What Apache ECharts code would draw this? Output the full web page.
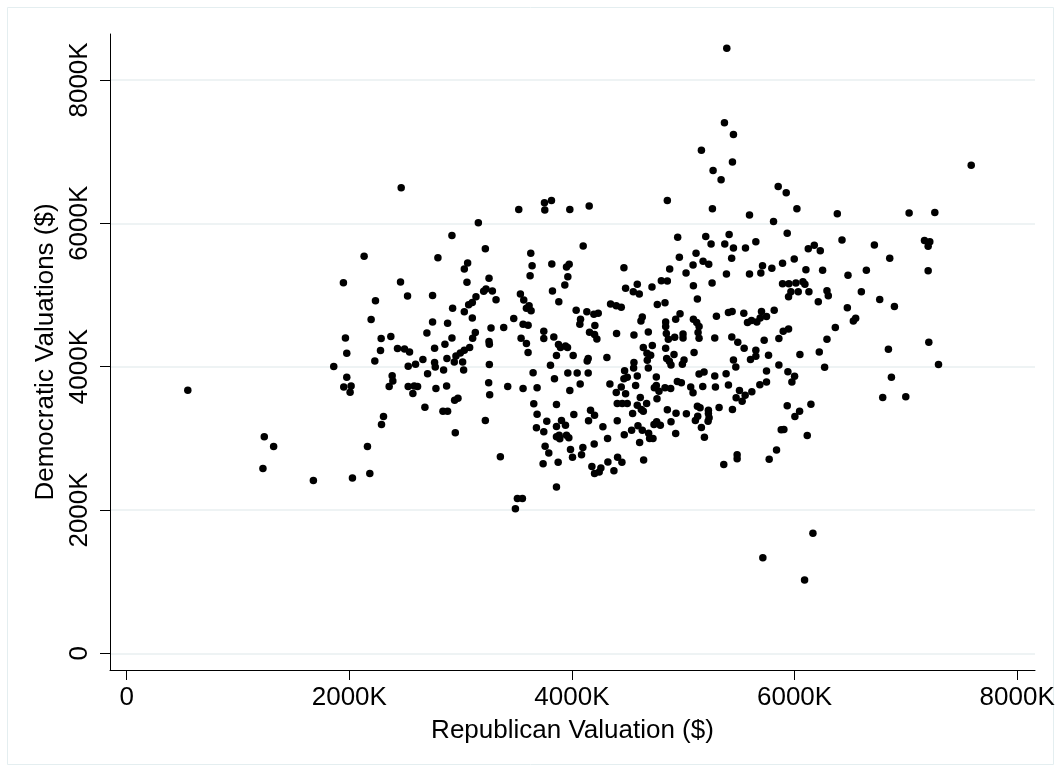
<!DOCTYPE html>
<html>
<head>
<meta charset="utf-8">
<script src="https://cdn.jsdelivr.net/npm/echarts@6/dist/echarts.min.js"></script>
<style>
  html, body { margin: 0; padding: 0; background: #fff; }
  #chart { width: 1061px; height: 772px; }
</style>
</head>
<body>
<div id="chart"></div>
<script>
// Valuations per observation, in thousands of dollars.
// repValuation[i] pairs with demValuation[i].
const repValuation = [
  2466,3159,2922,3522,3753,3756,3816,3981,4155,4857,
  4950,5202,5412,5370,5451,5163,5442,5268,5340,5262,
  5391,5853,5925,6021,5595,5811,6384,7029,7260,7587,
  5934,
  549,2133,2796,1947,2460,2523,2748,2235,2196,2748,
  2883,2697,1965,2286,2373,1977,2280,2433,2496,2541,
  2766,2859,2661,2877,1860,2229,2529,2595,2766,2772,
  2847,2703,1977,2385,2391,2358,1950,2016,2007,2529,
  2583,2613,2571,2778,2874,2679,2307,2841,2883,
  1236,1320,1224,1677,2028,2184,2163,2289,
  2952,3357,3222,3510,3555,3492,3681,3747,3774,3861,
  3942,3906,3861,3885,3891,3951,3972,3759,3792,3741,
  3876,3861,3987,4005,4098,4086,4149,4200,4278,4320,
  4179,4203,4245,4260,4323,4377,4410,4449,4407,4470,
  4536,4593,4632,4608,4644,4689,4698,4728,4737,4761,
  4794,4890,4932,5109,5163,5190,5223,5364,
  5880,5904,6114,5838,5772,5484,5484,6165,5715,6090,
  5451,5559,5652,5435,6123,6177,6231,6426,6717,7167,
  7215,7200,6855,7200,5892,5997,5712,5796,5595,5697,
  6102,6252,6480,6645,5892,5949,6012,6075,6093,5967,
  6033,5946,6129,6291,6303,6213,6600,6765,6897,6474,
  6549,6528,6366,6291,6222,6048,6270,6843,7206,7293,
  6870,6792,6999,5439,5544,5703,5817,5577,5613,5661,
  5691,5748,5946,5898,5859,5727,5436,5490,5547,5652,
  5652,5604,5766,5451,5472,5859,5748,5940,6000,5976,
  5748,5688,5616,5505,5556,5475,5529,5442,5934,6147,
  6045,6003,
  3222,3630,4101,5250,5373,3033,3063,3057,3255,3642,
  3624,3819,3951,3975,3963,3936,3825,3882,4467,4482,
  4587,4551,4605,4719,4803,4857,4878,4965,5025,5088,
  5115,5178,5229,5388,5259,5091,5127,4836,4767,4971,
  4932,5091,5121,5142,5133,5142,5298,5406,5283,4842,
  4842,4848,4866,4923,4998,4998,4632,4620,4686,4557,
  4401,4347,4398,4443,4641,4722,4674,4707,4677,4686,
  4842,4917,4851,4875,4890,5007,4992,5097,4314,4557,
  4554,4473,4497,4467,4587,4572,4341,4443,4398,4482,
  4614,4407,4452,4497,4587,4623,4671,4545,4641,4758,
  4740,4758,4782,4764,4836,4887,4947,4983,5067,5088,
  5175,5142,5187,5283,5289,5385,5406,5127,5151,5226,
  5226,5322,5028,4935,4857,5130,5232,
  2928,3033,3072,3105,3138,3207,3228,3285,3318,3105,
  2922,3132,3108,3273,3387,3255,3258,3081,3033,2997,
  2958,2943,3018,3027,3258,3252,3261,3423,3561,3687,
  3657,3687,3861,3651,3807,3843,3963,4047,4146,4074,
  3981,4137,4146,4011,3861,3897,3942,3960,3879,3837,
  3747,3747,3606,3591,3543,3477,3561,3606,3537,3567,
  3591,3615,3633,4038,4134,4197,4236,4077,4071,4206,
  4158,4203,4224,2946,2976,4017,4167,4203
];

const demValuation = [
  6496,6006,5828,6192,6286,6184,6318,6192,6240,6318,
  5806,5814,5842,7402,7238,7018,6856,6738,6608,6202,
  8442,6514,6426,6202,6114,6024,6132,6142,6150,6808,
  5862,
  3672,5540,5520,5170,5180,4984,4994,4918,4658,4624,
  4606,4470,4400,4392,4420,4186,4224,4252,4246,4204,
  4256,4312,4098,4112,4000,4078,4004,4032,4056,3994,
  3952,3902,3850,3874,3798,3724,3714,3728,3644,3724,
  3728,3724,3626,3696,3728,3434,3304,3378,3378,
  3020,2884,2580,2412,2446,2510,2884,3192,
  3076,2744,3248,2160,2160,2016,3146,3090,3238,3164,
  3182,3248,3020,3042,2992,3042,3006,2888,2796,2646,
  2664,2320,2842,2734,2870,2772,3244,2922,3160,2996,
  2608,2510,2530,2586,2670,2548,2734,2664,3244,3048,
  3112,3174,3112,2940,2698,3070,2996,2996,3192,3230,
  3182,3230,3066,3248,3150,3014,3238,2636,
  3118,3122,3038,2838,2706,2772,2716,1676,1334,1022,
  5656,5656,5744,5512,5646,5694,5618,5768,5698,5758,
  5744,5680,5512,5338,5442,5502,5408,5372,5292,5306,
  5352,5344,5274,5344,5156,5156,5166,5184,5148,5044,
  5044,4974,5044,5058,4988,4904,5044,4938,4840,4820,
  4676,4638,4546,4382,4204,4168,3990,4242,4340,4028,
  3850,3570,3580,4770,4746,4770,4788,4616,4644,4624,
  4680,4700,4526,4494,4392,4368,4414,4340,4256,4228,
  4144,4098,4158,4092,3994,4022,3938,3930,3864,3784,
  3784,3748,3650,3668,3602,3566,3518,3402,3454,3476,
  3378,3304,
  5646,5582,5684,5712,5712,5362,5446,5176,5232,5408,
  5268,5432,5390,5428,5254,5138,5054,4904,5380,5092,
  5148,5044,5012,5110,5198,5194,5362,5526,5306,5418,
  5582,5470,5428,5292,5166,5128,4942,4890,4868,4736,
  4662,4662,4616,4560,4476,4396,4704,4756,4400,4624,
  4560,4462,4382,4410,4456,4400,4694,4638,4484,4442,
  4462,4872,4848,4830,4266,4294,4186,4158,4088,3980,
  4256,4168,4112,4074,4022,4092,4032,4196,4126,4056,
  3980,3944,3850,3832,3868,3738,3756,3714,3640,3622,
  3570,3486,3486,3486,3462,3402,3486,3346,3378,3854,
  3706,3738,3658,3552,3706,3696,3794,3776,3714,3636,
  3724,3896,3924,3868,3714,3902,3742,3448,3426,3392,
  3346,3430,3342,3350,3398,3308,3286,
  4816,4764,4862,4896,4974,5050,5082,5054,4932,4680,
  4400,4476,4396,4540,4546,4350,4312,4266,4228,4190,
  4148,4064,4064,3952,4028,3776,3608,3724,3696,3706,
  3482,3336,3472,3916,4018,3832,3910,3910,3910,3756,
  3668,4078,4112,4154,4154,4266,4288,4266,4308,4414,
  4494,4392,4196,4322,4396,4672,4592,4578,5012,4928,
  4816,4848,4778,4788,4764,4732,4746,4662,4592,4574,
  4480,4448,4386,3532,3560,3332,3392,3322
];

// Tick positions shared by both axes (thousands of dollars)
const tickValues = [0, 2000, 4000, 6000, 8000];

const points = repValuation.map((x, i) => [x, demValuation[i]]);

const FONT = '"Liberation Sans", Arial, Helvetica, sans-serif';
const tickLabel = v => (v === 0 ? '0' : v + 'K');

const chart = echarts.init(document.getElementById('chart'), null, { renderer: 'canvas' });

chart.setOption({
  animation: false,
  backgroundColor: '#ffffff',
  textStyle: { fontFamily: FONT },
  graphic: [{
    type: 'rect',
    silent: true,
    shape: { x: 7.5, y: 7.5, width: 1046, height: 757 },
    style: { fill: null, stroke: '#e4eef0', lineWidth: 1 }
  }],
  grid: { left: 110, right: 26, top: 34, bottom: 102, containLabel: false },
  xAxis: {
    type: 'value',
    min: -150,
    max: 8160,
    name: 'Republican Valuation ($)',
    nameLocation: 'middle',
    nameGap: 48,
    nameTextStyle: { fontFamily: FONT, fontSize: 26, color: '#000' },
    axisLine: { show: true, onZero: false, lineStyle: { color: '#000', width: 1 } },
    axisTick: { show: true, length: 10, customValues: tickValues, lineStyle: { color: '#000', width: 1 } },
    axisLabel: {
      customValues: tickValues,
      formatter: tickLabel,
      margin: 15,
      fontFamily: FONT,
      fontSize: 26,
      color: '#000'
    },
    splitLine: { show: false }
  },
  yAxis: {
    type: 'value',
    min: -233,
    max: 8641,
    name: 'Democratic Valuations ($)',
    nameLocation: 'middle',
    nameGap: 37,
    nameRotate: 90,
    nameTextStyle: { fontFamily: FONT, fontSize: 26, color: '#000' },
    axisLine: { show: true, onZero: false, lineStyle: { color: '#000', width: 1 } },
    axisTick: { show: true, length: 10, customValues: tickValues, lineStyle: { color: '#000', width: 1 } },
    axisLabel: {
      customValues: tickValues,
      formatter: tickLabel,
      rotate: 90,
      margin: 17,
      fontFamily: FONT,
      fontSize: 26,
      color: '#000'
    },
    splitLine: { show: true, lineStyle: { color: '#e8eff0', width: 1.5 } }
  },
  series: [{
    type: 'scatter',
    data: points,
    symbol: 'circle',
    symbolSize: 7.5,
    itemStyle: { color: '#000', opacity: 1 },
    emphasis: { disabled: true }
  }]
});
</script>
</body>
</html>
